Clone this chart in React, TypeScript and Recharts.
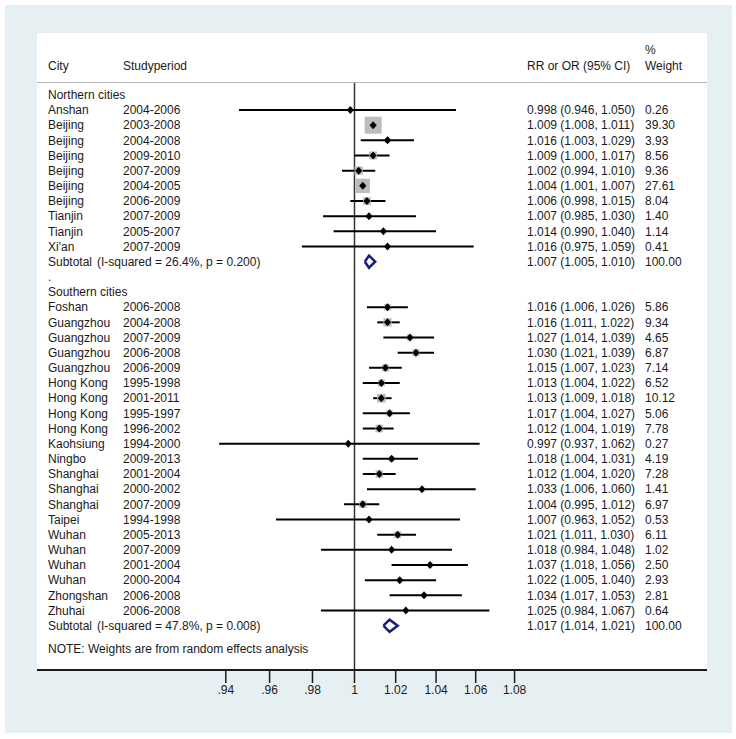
import { ComposedChart, Scatter, XAxis, YAxis, ZAxis, ErrorBar, ReferenceLine } from 'recharts'

// northern cities
const northCity = ['Anshan', 'Beijing', 'Beijing', 'Beijing', 'Beijing', 'Beijing', 'Beijing', 'Tianjin', 'Tianjin', "Xi'an"]
const northPeriod = ['2004-2006', '2003-2008', '2004-2008', '2009-2010', '2007-2009', '2004-2005', '2006-2009', '2007-2009', '2005-2007', '2007-2009']
const northRR = [0.998, 1.009, 1.016, 1.009, 1.002, 1.004, 1.006, 1.007, 1.014, 1.016]
const northLow = [0.946, 1.008, 1.003, 1.0, 0.994, 1.001, 0.998, 0.985, 0.99, 0.975]
const northHigh = [1.05, 1.011, 1.029, 1.017, 1.01, 1.007, 1.015, 1.03, 1.04, 1.059]
const northWeight = [0.26, 39.3, 3.93, 8.56, 9.36, 27.61, 8.04, 1.4, 1.14, 0.41]

// southern cities
const southCity = ['Foshan', 'Guangzhou', 'Guangzhou', 'Guangzhou', 'Guangzhou', 'Hong Kong', 'Hong Kong', 'Hong Kong', 'Hong Kong', 'Kaohsiung', 'Ningbo', 'Shanghai', 'Shanghai', 'Shanghai', 'Taipei', 'Wuhan', 'Wuhan', 'Wuhan', 'Wuhan', 'Zhongshan', 'Zhuhai']
const southPeriod = ['2006-2008', '2004-2008', '2007-2009', '2006-2008', '2006-2009', '1995-1998', '2001-2011', '1995-1997', '1996-2002', '1994-2000', '2009-2013', '2001-2004', '2000-2002', '2007-2009', '1994-1998', '2005-2013', '2007-2009', '2001-2004', '2000-2004', '2006-2008', '2006-2008']
const southRR = [1.016, 1.016, 1.027, 1.03, 1.015, 1.013, 1.013, 1.017, 1.012, 0.997, 1.018, 1.012, 1.033, 1.004, 1.007, 1.021, 1.018, 1.037, 1.022, 1.034, 1.025]
const southLow = [1.006, 1.011, 1.014, 1.021, 1.007, 1.004, 1.009, 1.004, 1.004, 0.937, 1.004, 1.004, 1.006, 0.995, 0.963, 1.011, 0.984, 1.018, 1.005, 1.017, 0.984]
const southHigh = [1.026, 1.022, 1.039, 1.039, 1.023, 1.022, 1.018, 1.027, 1.019, 1.062, 1.031, 1.02, 1.06, 1.012, 1.052, 1.03, 1.048, 1.056, 1.04, 1.053, 1.067]
const southWeight = [5.86, 9.34, 4.65, 6.87, 7.14, 6.52, 10.12, 5.06, 7.78, 0.27, 4.19, 7.28, 1.41, 6.97, 0.53, 6.11, 1.02, 2.5, 2.93, 2.81, 0.64]

// subtotals (northern, southern)
const subtotalNote = ['(I-squared = 26.4%, p = 0.200)', '(I-squared = 47.8%, p = 0.008)']
const subtotalRR = [1.007, 1.017]
const subtotalLow = [1.005, 1.014]
const subtotalHigh = [1.01, 1.021]

const xTicks = [0.94, 0.96, 0.98, 1, 1.02, 1.04, 1.06, 1.08]

const FONT = "'Liberation Sans', Arial, Helvetica, sans-serif"
const TEXT = '#1a1a1a'
const NAVY = '#1c1c78'

type TextRow = { x: number; y: number; city?: string; period?: string; note?: string; ci?: string; weight?: string }
type Point = { x: number; y: number; w?: number; err?: number[] }

const ciText = (rr: number, lo: number, hi: number) => `${rr.toFixed(3)} (${lo.toFixed(3)}, ${hi.toFixed(3)})`

const textRows: TextRow[] = []
const studies: Point[] = []
const diamonds: Point[][] = []

function addGroup(title: string, start: number, city: string[], period: string[], rr: number[], lo: number[], hi: number[], w: number[], g: number) {
  textRows.push({ x: 1, y: start, city: title })
  city.forEach((c, i) => {
    const r = start + 1 + i
    textRows.push({ x: 1, y: r, city: c, period: period[i], ci: ciText(rr[i], lo[i], hi[i]), weight: w[i].toFixed(2) })
    studies.push({ x: rr[i], y: r, w: w[i], err: [rr[i] - lo[i], hi[i] - rr[i]] })
  })
  const rs = start + 1 + city.length
  textRows.push({ x: 1, y: rs, city: 'Subtotal', note: subtotalNote[g], ci: ciText(subtotalRR[g], subtotalLow[g], subtotalHigh[g]), weight: '100.00' })
  diamonds.push([
    { x: subtotalLow[g], y: rs },
    { x: subtotalRR[g], y: rs - 0.4 },
    { x: subtotalHigh[g], y: rs },
    { x: subtotalRR[g], y: rs + 0.4 },
    { x: subtotalLow[g], y: rs },
  ])
}

addGroup('Northern cities', -1, northCity, northPeriod, northRR, northLow, northHigh, northWeight, 0)
textRows.push({ x: 1, y: 11, city: '.' })
addGroup('Southern cities', 12, southCity, southPeriod, southRR, southLow, southHigh, southWeight, 1)
textRows.push({ x: 1, y: 35.55, city: 'NOTE: Weights are from random effects analysis' })

function RowText(props: any) {
  const row: TextRow = props.payload ?? props
  const y = props.cy
  const common = { y, dy: '0.35em', fontSize: 12, fill: TEXT, fontFamily: FONT }
  return (
    <g>
      {row.city && <text x={48} {...common}>{row.city}</text>}
      {row.period && <text x={123} {...common}>{row.period}</text>}
      {row.note && <text x={97} {...common}>{row.note}</text>}
      {row.ci && <text x={527} {...common}>{row.ci}</text>}
      {row.weight && <text x={645} {...common}>{row.weight}</text>}
    </g>
  )
}

function Marker(p: any) {
  const { cx, cy } = p
  return <polygon points={`${cx},${cy - 4} ${cx + 3.6},${cy} ${cx},${cy + 4} ${cx - 3.6},${cy}`} fill="#000" />
}

const fmtTick = (v: number) => (v === 1 ? '1' : v < 1 ? v.toFixed(2).replace(/^0/, '') : v.toFixed(2))

const label = (left: number, top: number, s: string) => (
  <span style={{ position: 'absolute', left, top, fontSize: 12, lineHeight: '14px', color: TEXT, fontFamily: FONT, whiteSpace: 'nowrap' }}>{s}</span>
)

export default function App() {
  return (
    <div style={{ position: 'absolute', left: 0, top: 0, width: 736, height: 739, background: '#fff' }}>
      <div style={{ position: 'absolute', left: 5, top: 5, width: 727, height: 728, background: '#e6eff2' }} />
      <div style={{ position: 'absolute', left: 37, top: 33, width: 670, height: 637, background: '#fff' }} />
      <div style={{ position: 'absolute', left: 37, top: 82, width: 670, height: 1, background: '#b4b4b4' }} />
      {label(48, 59, 'City')}
      {label(123, 59, 'Studyperiod')}
      {label(527, 59, 'RR or OR (95% CI)')}
      {label(645, 43, '%')}
      {label(645, 59, 'Weight')}
      <div style={{ position: 'absolute', left: 0, top: 0 }}>
        <ComposedChart width={736} height={739} margin={{ top: 83, right: 29, bottom: 0, left: 37 }} style={{ fontFamily: FONT }}>
          <XAxis
            type="number"
            dataKey="x"
            scale="log"
            domain={[0.85844, 1.18468]}
            allowDataOverflow
            ticks={xTicks}
            tickFormatter={fmtTick}
            axisLine={{ stroke: '#1a1a1a', strokeWidth: 2 }}
            tickLine={{ stroke: '#1a1a1a', strokeWidth: 1.5 }}
            tickSize={13}
            tick={{ fontSize: 12, fill: TEXT }}
            height={69}
          />
          <YAxis type="number" dataKey="y" reversed domain={[-1.78, 36.92]} allowDataOverflow hide width={0} />
          <ZAxis zAxisId="w" type="number" dataKey="w" domain={[0, 39.3]} range={[0, 289]} />
          <ZAxis zAxisId="m" type="number" range={[40, 40]} />
          <ReferenceLine x={1} stroke="#333" strokeWidth={1.5} />
          <Scatter data={textRows} zAxisId="m" shape={<RowText />} isAnimationActive={false} />
          <Scatter data={studies} zAxisId="w" shape="square" fill="#bdbdbd" isAnimationActive={false} />
          <Scatter data={studies} zAxisId="m" shape={<Marker />} isAnimationActive={false}>
            <ErrorBar dataKey="err" direction="x" width={0} stroke="#000" strokeWidth={2} />
          </Scatter>
          {diamonds.map((d, i) => (
            <Scatter
              key={i}
              data={d}
              zAxisId="m"
              line={{ stroke: NAVY, strokeWidth: 2.5 }}
              lineJointType="linear"
              shape={() => <g />}
              isAnimationActive={false}
            />
          ))}
        </ComposedChart>
      </div>
    </div>
  )
}
